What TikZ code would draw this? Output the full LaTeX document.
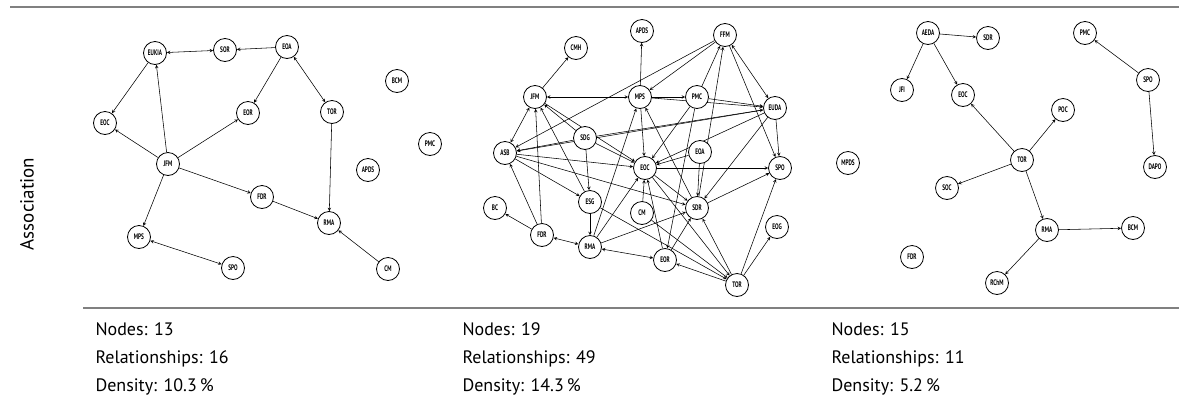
\documentclass[tikz,border=0pt]{standalone}
\usepackage{fontspec}
\setmainfont{PT Sans}
\newfontfamily\tagfont[FakeStretch=0.66]{PT Sans}
\usepgflibrary{arrows}
\usetikzlibrary{backgrounds}
\begin{document}
\begin{tikzpicture}[>=stealth, x=1pt, y=-1pt,
actor/.style={circle, draw, line width=.8pt, fill=white, minimum size=23pt, inner sep=0pt, font=\tagfont\bfseries\fontsize{8}{8}\selectfont},
tie/.style={->, line width=.55pt},
mutual/.style={<->, line width=.55pt},
rule/.style={line width=1.6pt, black!50},
stat/.style={anchor=base west, font=\fontsize{18}{18}\selectfont}]
\useasboundingbox (0,0) rectangle (1179,400);
\draw [rule] (10,7) -- (1179,7);
\draw [rule] (83,308) -- (1179,308);
\node [rotate=90, font=\fontsize{19}{19}\selectfont] (side) at (27,204) {Association};

% left network
\node [actor] (lEUKIA) at (155,53) {EUKIA};
\node [actor] (lSOR) at (225,50) {SOR};
\node [actor] (lEOA) at (287,47) {EOA};
\node [actor] (lBCM) at (397,81) {BCM};
\node [actor] (lEOC) at (105,123) {EOC};
\node [actor] (lEOR) at (248,113) {EOR};
\node [actor] (lTOR) at (332,112) {TOR};
\node [actor] (lPMC) at (430,144) {PMC};
\node [actor] (lJFM) at (168,164) {JFM};
\node [actor] (lAPDS) at (368,170) {APDS};
\node [actor] (lFDR) at (262,197) {FDR};
\node [actor] (lRMA) at (329,223) {RMA};
\node [actor] (lMPS) at (139,237) {MPS};
\node [actor] (lSPO) at (233,268) {SPO};
\node [actor] (lCM) at (388,269) {CM};
\draw [mutual] (lEUKIA) edge (lSOR);
\draw [tie] (lEOA) edge (lSOR);
\draw [tie] (lEOA) edge (lEOR);
\draw [mutual] (lEOA) edge (lTOR);
\draw [tie] (lEUKIA) edge (lEOC);
\draw [tie] (lJFM) edge (lEUKIA);
\draw [tie] (lJFM) edge (lEOC);
\draw [tie] (lJFM) edge (lEOR);
\draw [tie] (lJFM) edge (lFDR);
\draw [tie] (lJFM) edge (lMPS);
\draw [tie] (lTOR) edge (lRMA);
\draw [tie] (lFDR) edge (lRMA);
\draw [tie] (lCM) edge (lRMA);
\draw [mutual] (lMPS) edge (lSPO);

% middle network
\node [actor] (mAPDS) at (642,31) {APDS};
\node [actor] (mFFM) at (725,35) {FFM};
\node [actor] (mCMH) at (576,48) {CMH};
\node [actor] (mJFM) at (535,97) {JFM};
\node [actor] (mMPS) at (640,97) {MPS};
\node [actor] (mPMC) at (697,97) {PMC};
\node [actor] (mEUDA) at (775,108) {EUDA};
\node [actor] (mSDG) at (585,138) {SDG};
\node [actor] (mEOA) at (700,152) {EOA};
\node [actor] (mASB) at (505,153) {ASB};
\node [actor] (mEOC) at (645,168) {EOC};
\node [actor] (mSPO) at (780,168) {SPO};
\node [actor] (mESG) at (590,202) {ESG};
\node [actor] (mCM) at (642,213) {CM};
\node [actor] (mSDR) at (697,208) {SDR};
\node [actor] (mBC) at (495,208) {BC};
\node [actor] (mEOG) at (777,227) {EOG};
\node [actor] (mFDR) at (542,235) {FDR};
\node [actor] (mRMA) at (590,247) {RMA};
\node [actor] (mEOR) at (665,260) {EOR};
\node [actor] (mTOR) at (737,285) {TOR};
\begin{pgfonlayer}{background}
\draw [tie] (mJFM) edge (mCMH);
\draw [tie] (mMPS) edge (mAPDS);
\draw [tie] (mFFM) edge (mMPS);
\draw [tie] (mFFM) edge (mASB);
\draw [tie] (mPMC) edge (mFFM);
\draw [tie] (mSDR) edge (mFFM);
\draw [mutual] (mFFM) edge (mEUDA);
\draw [tie] (mFFM) edge (mSPO);
\draw [mutual] (mMPS) edge (mJFM);
\draw [mutual] (mJFM) edge (mASB);
\draw [tie] (mMPS) edge (mPMC);
\draw [tie] (mMPS) edge (mEUDA);
\draw [tie] (mPMC) edge (mEUDA);
\draw [tie] (mEUDA) edge (mSPO);
\draw [tie] (mEUDA) edge (mASB);
\draw [tie] (mSDG) edge (mEUDA);
\draw [tie] (mSDG) edge (mJFM);
\draw [tie] (mJFM) edge (mEOC);
\draw [tie] (mSDG) edge (mEOC);
\draw [tie] (mSDG) edge (mASB);
\draw [tie] (mASB) edge (mEOC);
\draw [tie] (mMPS) edge (mEOC);
\draw [tie] (mESG) edge (mJFM);
\draw [tie] (mFDR) edge (mJFM);
\draw [tie] (mFDR) edge (mASB);
\draw [tie] (mFDR) edge (mBC);
\draw [mutual] (mFDR) edge (mRMA);
\draw [tie] (mESG) edge (mRMA);
\draw [tie] (mASB) edge (mESG);
\draw [tie] (mSDG) edge (mESG);
\draw [tie] (mRMA) edge (mMPS);
\draw [tie] (mRMA) edge (mEOC);
\draw [mutual] (mRMA) edge (mEOR);
\draw [tie] (mCM) edge (mEOC);
\draw [tie] (mEOC) edge (mSPO);
\draw [tie] (mEOC) edge (mSDR);
\draw [tie] (mEOC) edge (mTOR);
\draw [tie] (mSDR) edge (mSPO);
\draw [tie] (mTOR) edge (mSPO);
\draw [tie] (mTOR) edge (mEOG);
\draw [tie] (mTOR) edge (mSDR);
\draw [tie] (mTOR) edge (mEOR);
\draw [tie] (mESG) edge (mTOR);
\draw [tie] (mCM) edge (mTOR);
\draw [tie] (mASB) edge (mSDR);
\draw [tie] (mEUDA) edge (mEOC);
\draw [tie] (mEOA) edge (mEOC);
\draw [tie] (mEUDA) edge (mSDR);
\draw [tie] (mPMC) edge (mEOC);
\draw [tie] (mPMC) edge (mEOR);
\draw [tie] (mSDR) edge (mMPS);
\draw [tie] (mEOR) edge (mSDR);
\draw [tie] (mEOR) edge (mEOC);
\draw [tie] (mEOA) edge (mSDR);
\draw [tie] (mRMA) edge (mSDR);
\end{pgfonlayer}

% right network
\node [actor] (rAEDA) at (928,33) {AEDA};
\node [actor] (rSDR) at (988,38) {SDR};
\node [actor] (rPMC) at (1085,33) {PMC};
\node [actor] (rJFI) at (902,90) {JFI};
\node [actor] (rEOC) at (963,95) {EOC};
\node [actor] (rSPO) at (1148,80) {SPO};
\node [actor] (rPOC) at (1063,110) {POC};
\node [actor] (rMPDS) at (848,163) {MPDS};
\node [actor] (rTOR) at (1022,160) {TOR};
\node [actor] (rDAPO) at (1155,167) {DAPO};
\node [actor] (rSOC) at (947,188) {SOC};
\node [actor] (rRMA) at (1047,230) {RMA};
\node [actor] (rBCM) at (1133,228) {BCM};
\node [actor] (rFDR) at (912,257) {FDR};
\node [actor] (rRChM) at (997,283) {RChM};
\draw [tie] (rAEDA) edge (rSDR);
\draw [tie] (rAEDA) edge (rJFI);
\draw [tie] (rAEDA) edge (rEOC);
\draw [tie] (rTOR) edge (rEOC);
\draw [tie] (rTOR) edge (rPOC);
\draw [tie] (rTOR) edge (rSOC);
\draw [tie] (rTOR) edge (rRMA);
\draw [tie] (rRMA) edge (rBCM);
\draw [tie] (rRMA) edge (rRChM);
\draw [tie] (rSPO) edge (rPMC);
\draw [tie] (rSPO) edge (rDAPO);

% figures under each network
\node [stat] (lN) at (92,335) {Nodes: 13};
\node [stat] (lR) at (92,363) {Relationships: 16};
\node [stat] (lD) at (92,391) {Density: 10.3\,\%};
\node [stat] (mN) at (459,335) {Nodes: 19};
\node [stat] (mR) at (459,363) {Relationships: 49};
\node [stat] (mD) at (459,391) {Density: 14.3\,\%};
\node [stat] (rN) at (828,335) {Nodes: 15};
\node [stat] (rR) at (828,363) {Relationships: 11};
\node [stat] (rD) at (828,391) {Density: 5.2\,\%};
\end{tikzpicture}
\end{document}
